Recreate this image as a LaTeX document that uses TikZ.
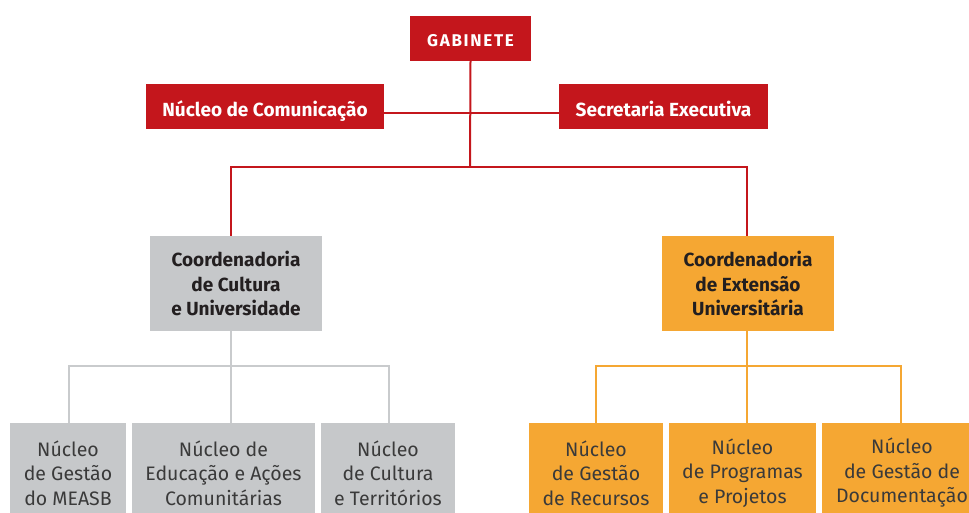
\documentclass[tikz,border=0pt]{standalone}
\usepackage{fontspec}
\setmainfont{Fira Sans}
\definecolor{gabred}{HTML}{C4161C}
\definecolor{boxgray}{HTML}{C6C8CA}
\definecolor{linegray}{HTML}{C9CBCD}
\definecolor{boxorange}{HTML}{F5A733}
\definecolor{txtdark}{HTML}{231F20}
\definecolor{txtgray}{HTML}{3A3A3A}
\tikzset{
  redbox/.style={shape=rectangle,fill=gabred,text=white,inner sep=0pt,
    text height=22pt,text depth=2pt,font=\fontsize{19}{22}\selectfont\bfseries},
  coordbox/.style={shape=rectangle,inner sep=0pt,align=center,minimum width=172pt,
    minimum height=95pt,text=txtdark,font=\fontsize{19}{24.5}\selectfont\bfseries},
  nucbox/.style={shape=rectangle,inner sep=0pt,align=center,minimum height=100pt,
    text=txtgray,font=\fontsize{19.5}{24.5}\selectfont},
  redline/.style={draw=gabred,line width=2pt},
  grayline/.style={draw=linegray,line width=2.2pt},
  orangeline/.style={draw=boxorange,line width=2.2pt}
}
\begin{document}
\begin{tikzpicture}[x=1pt,y=-1pt]
      \useasboundingbox (0,0) rectangle (969,513);

      \node[redbox,minimum width=121pt,minimum height=45pt,text height=19pt,
        font=\fontsize{17}{20}\selectfont\bfseries] (gab) at (470.5,38.5) {\addfontfeature{LetterSpace=10}GABINETE};
      \node[redbox,minimum width=238pt,minimum height=45pt] (nc) at (265,106.5) {Núcleo de Comunicação};
      \node[redbox,minimum width=209pt,minimum height=45pt] (se) at (663.5,106.5) {Secretaria Executiva};

      \node[coordbox,fill=boxgray] (cc) at (236,283.5) {Coordenadoria\\de Cultura\\e Universidade};
      \node[coordbox,fill=boxorange] (ce) at (748,283.5) {Coordenadoria\\de Extensão\\Universitária};

      \node[nucbox,fill=boxgray,minimum width=116pt] (g1) at (68,473) {Núcleo\\de Gestão\\do MEASB};
      \node[nucbox,fill=boxgray,minimum width=183pt] (g2) at (223.5,473) {Núcleo de\\Educação e Ações\\Comunitárias};
      \node[nucbox,fill=boxgray,minimum width=134pt] (g3) at (388,473) {Núcleo\\de Cultura\\e Territórios};

      \node[nucbox,fill=boxorange,minimum width=134pt] (o1) at (596,473) {Núcleo\\de Gestão\\de Recursos};
      \node[nucbox,fill=boxorange,minimum width=147pt] (o2) at (742.5,473) {Núcleo\\de Programas\\e Projetos};
      \node[nucbox,fill=boxorange,minimum width=160pt] (o3) at (902,473) {Núcleo\\de Gestão de\\Documentação};

      \coordinate (rj) at (470,167);
      \coordinate (gj) at (231,366);
      \coordinate (oj) at (747,366);

      % top level
      \draw[redline] ([yshift=-7pt]nc.east) -- ([yshift=-7pt]se.west);
      \draw[redline] (gab.south) -- (rj);
      \draw[redline] ([xshift=-5pt]cc.north) |- (rj) -| ([xshift=-1pt]ce.north);

      % cultura
      \draw[grayline] ([xshift=-5pt]cc.south) -- ([xshift=7.5pt]g2.north);
      \draw[grayline] ([xshift=1pt]g1.north) |- (gj) -| ([xshift=1pt]g3.north);

      % extensao
      \draw[orangeline] ([xshift=-1pt]ce.south) -- ([xshift=4.5pt]o2.north);
      \draw[orangeline] (o1.north) |- (oj) -| ([xshift=-1pt]o3.north);
  \end{tikzpicture}
\end{document}
